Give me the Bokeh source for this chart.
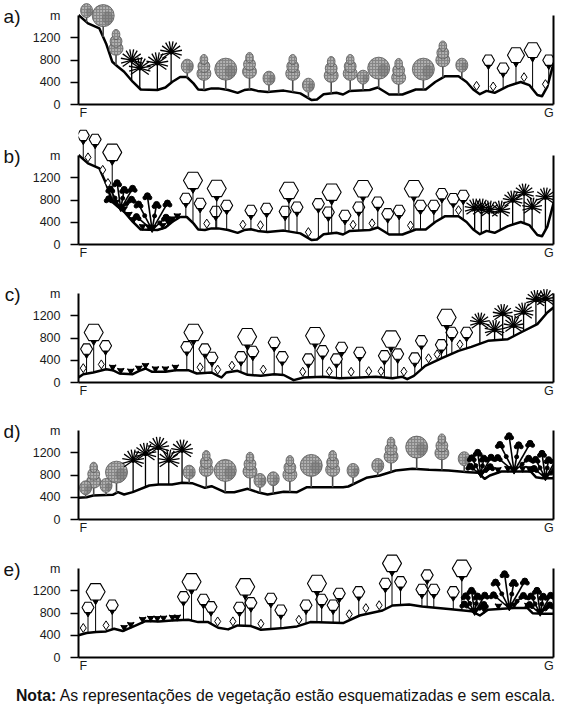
import numpy as np
from bokeh.plotting import figure
from bokeh.models import Range1d, LinearAxis, FixedTicker, Div
from bokeh.layouts import column
from bokeh.embed import file_html
from bokeh.resources import INLINE

# ---------------- DATA ----------------
# Terrain profiles: distance along the F-G transect (% of length) and elevation (m)
dist_ab = [0, 2.0, 4.4, 5.8, 7.1, 8.3, 9.6, 11.4, 13.1, 16.6, 18.3, 19.7, 21.4, 22.8, 24.2, 25.2,
           26.6, 28.0, 29.4, 31.5, 33.5, 34.9, 36.3, 37.7, 39.8, 43.2, 46.7, 49.1, 50.2, 51.6,
           54.3, 55.7, 57.1, 61.3, 63.0, 65.4, 68.2, 71.0, 73.1, 75.1, 77.2, 80.0, 81.7, 83.1,
           84.5, 85.9, 87.6, 90.4, 93.1, 94.9, 96.6, 97.6, 98.7, 100]
elev_ab = [1610, 1460, 1370, 1100, 770, 680, 590, 410, 270, 260, 305, 405, 495, 495, 380, 270,
           260, 290, 290, 260, 210, 260, 275, 245, 225, 250, 200, 80, 90, 185,
           210, 180, 245, 260, 305, 180, 180, 270, 270, 405, 510, 510, 405, 270,
           185, 245, 210, 330, 405, 350, 170, 150, 320, 740]

dist_c = [0, 1.0, 3.1, 5.8, 7.2, 8.6, 11.4, 12.8, 14.1, 15.5, 18.3, 20.4, 23.1, 24.9, 28.0, 29.4,
          30.1, 31.1, 33.5, 35.6, 38.4, 41.2, 43.2, 45.3, 47.4, 51.6, 55.0, 59.2, 62.6, 66.1,
          68.2, 69.2, 70.6, 73.0, 76.5, 80.0, 82.7, 86.2, 90.4, 93.1, 96.6, 98.7, 100]
elev_c = [90, 150, 180, 240, 222, 162, 150, 210, 252, 192, 192, 222, 222, 162, 180, 120,
          90, 180, 210, 138, 120, 150, 135, 42, 90, 102, 78, 90, 102, 78,
          102, 60, 120, 300, 438, 570, 642, 750, 780, 900, 1050, 1260, 1350]

dist_d = [0, 1.7, 3.1, 7.2, 8.3, 9.6, 11.4, 14.9, 16.9, 19.7, 21.8, 23.9, 26.6, 28.0, 30.8, 32.8,
          35.6, 37.7, 39.8, 43.2, 46.0, 48.1, 55.7, 56.8, 60.6, 63.4, 66.8, 70.3, 73.8, 77.9,
          82.1, 84.2, 85.5, 86.6, 89.0, 95.2, 96.3, 97.7, 100]
elev_d = [390, 402, 432, 444, 492, 450, 492, 612, 630, 630, 660, 654, 570, 600, 492, 492,
          552, 492, 450, 498, 492, 582, 582, 594, 750, 792, 882, 912, 894, 882,
          852, 840, 732, 792, 864, 864, 762, 744, 744]

dist_e = [0, 1.7, 3.7, 5.8, 7.5, 9.3, 12.1, 14.1, 16.9, 19.7, 23.1, 25.2, 27.3, 29.4, 31.5, 33.5,
          36.3, 38.4, 41.2, 43.2, 46.0, 48.8, 55.7, 59.2, 64.0, 66.1, 69.6, 72.3, 77.9, 82.7,
          84.5, 86.2, 91.7, 94.5, 95.6, 98.0, 100]
elev_e = [400, 440, 458, 470, 518, 476, 578, 655, 650, 668, 680, 637, 637, 536, 506, 578,
          566, 500, 518, 530, 560, 637, 619, 756, 846, 936, 954, 918, 875, 834,
          756, 858, 893, 893, 797, 786, 786]

y_ticks = [0, 400, 800, 1200]
unit_label = "m"
end_labels = ["F", "G"]
panel_letters = ["a)", "b)", "c)", "d)", "e)"]
note_bold = "Nota:"
note_text = "As representações de vegetação estão esquematizadas e sem escala."

# Vegetation (distance %, crown elevation m)
a_conifer_x = [7.9, 26.4, 36.0, 45.1, 53.2, 57.2, 67.4, 76.7]
a_conifer_z = [1114, 663, 699, 663, 627, 663, 591, 906]
a_broad_x = [5.2, 31.0, 63.2, 72.6]
a_broad_z = [1600, 636, 654, 636]
a_bush_x = [1.7, 22.9, 40.1, 48.4, 59.9, 80.7]
a_bush_z = [1690, 690, 474, 348, 492, 708]
a_palm_x = [11.2, 12.9, 16.6, 19.5]
a_palm_z = [798, 654, 744, 942]
a_big_x = [92.1, 95.6]
a_big_z = [888, 978]
a_small_x = [86.3, 89.4, 99.0]
a_small_z = [798, 654, 798]
a_shrub_x = [83.8, 87.3, 93.8, 98.3]

b_big_x = [7.1, 24.1, 29.1, 44.3, 53.3, 59.9, 70.6]
b_big_z = [1658, 1153, 1009, 973, 942, 1004, 1004]
b_small_x = [1.0, 3.5, 22.6, 25.6, 28.9, 31.2, 36.3, 39.6, 43.5, 46.0, 50.5, 52.6, 56.1, 59.0,
             63.0, 65.1, 67.5, 72.0, 74.8, 76.5, 78.9, 81.0]
b_small_z = [1964, 1892, 829, 739, 595, 703, 613, 649, 595, 672, 733, 582, 523, 672,
             762, 553, 613, 703, 703, 914, 824, 883]
b_shrub_x = [2.0, 5.1, 6.2, 27.0, 34.6, 38.3, 48.4, 57.8, 61.8, 69.9, 80.0]
b_palm_x = [83.4, 84.8, 86.5, 88.8, 91.4, 93.8, 95.5, 98.3]
b_palm_z = [649, 649, 613, 613, 793, 919, 667, 847]
b_caat_x = [8.9, 15.5]
b_caat_z = [1117, 883]
b_grass_x = [7.9, 9.6, 10.6, 11.6, 13.5, 14.8, 17.7, 18.9, 19.8, 20.8]

c_big_x = [3.2, 24.2, 35.5, 49.8, 65.8, 77.5]
c_big_z = [901, 901, 824, 842, 782, 1171]
c_small_x = [1.7, 5.7, 22.8, 26.6, 28.1, 34.2, 36.7, 41.2, 42.9, 48.4, 51.4, 54.3, 55.4, 59.2,
             64.4, 67.2, 70.8, 72.2, 76.4, 78.6, 81.7]
c_small_z = [602, 661, 643, 602, 451, 463, 559, 721, 463, 422, 571, 422, 631, 541,
             481, 512, 440, 751, 679, 901, 901]
c_shrub_x = [1.0, 4.8, 25.6, 29.3, 32.3, 38.9, 47.2, 52.8, 57.4, 61.1, 63.7, 68.5, 73.7, 75.5, 80.3]
c_grass_x = [7.2, 8.9, 11.0, 12.7, 14.1, 16.2, 18.3, 20.4]
c_palm_x = [84.5, 87.6, 89.3, 91.6, 93.7, 96.3, 98.3]
c_palm_z = [1081, 944, 1233, 1022, 1261, 1485, 1503]

d_conifer_x = [3.2, 26.9, 36.1, 44.5, 53.5, 65.8, 76.5]
d_conifer_z = [793, 1004, 973, 913, 1004, 1243, 1303]
d_broad_x = [8.0, 30.9, 49.0, 71.2]
d_broad_z = [852, 883, 973, 1303]
d_bush_x = [1.5, 5.8, 23.3, 38.2, 41.0, 57.8, 63.0, 81.2]
d_bush_z = [571, 613, 852, 703, 733, 883, 973, 1094]
d_palm_x = [11.5, 14.1, 16.8, 19.0, 21.8]
d_palm_z = [1063, 1184, 1292, 1063, 1243]
d_caat_x = [84.7, 91.7, 98.3]
d_caat_z = [1213, 1514, 1195]
d_grass_x = [88.3, 90.4, 93.5, 94.9]

e_big_x = [3.6, 23.8, 35.1, 50.2, 66.0, 80.7]
e_big_z = [1182, 1362, 1272, 1333, 1694, 1604]
e_small_x = [2.0, 7.1, 22.1, 26.3, 27.9, 33.9, 36.3, 40.5, 42.6, 47.9, 51.2, 53.6, 54.9, 59.0,
             64.6, 67.8, 72.3, 73.4, 74.8, 78.9]
e_small_z = [901, 942, 1092, 1045, 912, 901, 984, 1063, 852, 942, 1045, 942, 1153, 1182,
             1333, 1362, 1225, 1483, 1225, 1182]
e_shrub_x = [1.0, 5.8, 29.3, 32.5, 38.4, 46.4, 57.0, 60.5, 63.3]
e_grass_x = [9.6, 11.0, 13.5, 15.2, 16.6, 17.9, 19.8, 20.8, 85.4, 88.4, 91.7, 94.6]
e_caat_x = [83.4, 90.7, 97.2]
e_caat_z = [1213, 1514, 1213]

# ---------------- STYLE / HELPERS ----------------
M = 18.0          # metres per screen pixel (vertical)
W = 561
LEFT = 72
RIGHT = 8
PXU = (W - LEFT - RIGHT) / 100.0   # screen pixels per distance unit
FONT = "Liberation Sans"
GRAY = "#858585"
GRAY_LINE = "#5a5a5a"
UNIT_Y = 1590     # height where the unit / panel letter are written
AXIS_TOP = 1610


def base_fig(letter, frame_h, height):
    p = figure(width=W, height=height, x_range=Range1d(0, 100), y_range=Range1d(0, frame_h * M),
               output_backend="svg", toolbar_location=None,
               min_border_left=LEFT, min_border_right=RIGHT, min_border_top=0,
               min_border_bottom=height - frame_h)
    p.outline_line_color = None
    p.xgrid.visible = False
    p.ygrid.visible = False
    ya = p.yaxis[0]
    ya.ticker = FixedTicker(ticks=y_ticks + [UNIT_Y], minor_ticks=y_ticks)
    ya.major_label_overrides = {UNIT_Y: unit_label}
    ya.bounds = (0, AXIS_TOP)
    ya.axis_line_width = 2
    ya.axis_line_color = "black"
    ya.major_tick_line_color = None
    ya.major_tick_out = 0
    ya.major_tick_in = 0
    ya.minor_tick_out = 8
    ya.minor_tick_in = 0
    ya.minor_tick_line_width = 1.6
    ya.minor_tick_line_color = "black"
    ya.major_label_standoff = 10
    ya.major_label_text_font = FONT
    ya.major_label_text_font_size = "12.5px"
    ya.major_label_text_color = "#1a1a1a"
    # panel letter as an outer left axis label
    la = LinearAxis(ticker=FixedTicker(ticks=[UNIT_Y]), major_label_overrides={UNIT_Y: letter},
                    axis_line_color=None, major_tick_line_color=None, minor_tick_line_color=None,
                    major_tick_out=0, major_tick_in=0, major_label_standoff=9,
                    major_label_text_font=FONT, major_label_text_font_size="19px",
                    major_label_text_color="#111111")
    p.add_layout(la, "left")
    xa = p.xaxis[0]
    xa.ticker = FixedTicker(ticks=[1, 99])
    xa.major_label_overrides = {1: end_labels[0], 99: end_labels[1]}
    xa.major_tick_line_color = None
    xa.minor_tick_line_color = None
    xa.major_tick_out = 0
    xa.major_tick_in = 0
    xa.axis_line_width = 2
    xa.axis_line_color = "black"
    xa.major_label_standoff = 1
    xa.major_label_text_font = FONT
    xa.major_label_text_font_size = "12.5px"
    xa.major_label_text_color = "#1a1a1a"
    ra = LinearAxis(ticker=FixedTicker(ticks=[]), bounds=(0, AXIS_TOP),
                    major_label_text_font_size="0px", major_tick_out=0, major_tick_in=0,
                    minor_tick_out=0, minor_tick_in=0, major_label_standoff=0,
                    axis_line_width=2, axis_line_color="black")
    p.add_layout(ra, "right")
    return p


def terrain(p, d, e):
    p.line(d, e, line_width=2.5, line_color="black", line_join="round")


def ground_fn(d, e):
    return lambda x: np.interp(np.asarray(x, float), d, e)


def white_trees(p, g, xs, zs, size):
    xs = np.asarray(xs, float)
    zs = np.asarray(zs, float)
    p.segment(xs, g(xs), xs, zs, line_color="black", line_width=1)
    p.scatter(xs, zs - (size / 2.0 + 0.5) * M, marker="inverted_triangle", size=5,
              fill_color="black", line_color="black")
    p.scatter(xs, zs, marker="hex", size=size, fill_color="white", line_color="black",
              line_width=1.1)


def shrubs(p, g, xs):
    xs = np.asarray(xs, float)
    p.scatter(xs, g(xs) + 6 * M, marker="diamond", size=9, fill_color="white",
              line_color="black", line_width=1)


def grass(p, g, xs):
    xs = np.asarray(xs, float)
    p.scatter(xs, g(xs) + 3 * M, marker="inverted_triangle", size=6, fill_color="black",
              line_color="black")
    p.scatter(xs, g(xs) + 3 * M, marker="y", size=8, line_color="black", line_width=1.2)


def gray_trees(p, g, xs, zs, w, h, kind):
    xs = np.asarray(xs, float)
    zs = np.asarray(zs, float)
    p.segment(xs, g(xs), xs, zs, line_color="#4a4a4a", line_width=1.6)
    kw = dict(width_units="screen", height_units="screen", fill_color=GRAY,
              line_color=GRAY_LINE, line_width=0.8, hatch_pattern="ring",
              hatch_color="#d0d0d0", hatch_scale=3, hatch_weight=0.7, hatch_alpha=0.8)
    if kind == "conifer":
        p.ellipse(xs, zs - 0.22 * h * M, width=w, height=0.5 * h, **kw)
        p.ellipse(xs, zs + 0.05 * h * M, width=0.85 * w, height=0.45 * h, **kw)
        p.ellipse(xs, zs + 0.3 * h * M, width=0.55 * w, height=0.38 * h, **kw)
    else:
        p.ellipse(xs, zs, width=w, height=h, **kw)
        p.ellipse(xs + 0.2 * w / PXU, zs - 0.1 * h * M, width=0.5 * w, height=0.6 * h,
                  width_units="screen", height_units="screen", fill_color="#6e6e6e",
                  fill_alpha=0.55, line_color=None)


def palms(p, g, xs, zs, L):
    xs = np.asarray(xs, float)
    zs = np.asarray(zs, float)
    p.segment(xs, g(xs), xs, zs, line_color="black", line_width=1.3)
    ang = np.array([-35, -15, 10, 35, 60, 80, 100, 120, 145, 170, 195, 215], float)
    n = len(ang)
    p.ray(np.repeat(xs, n), np.repeat(zs, n), length=L, length_units="screen",
          angle=np.tile(ang, len(xs)), angle_units="deg", line_color="black", line_width=1.3)
    p.scatter(xs, zs, marker="circle", size=4, color="black")


def caatinga(p, g, xs, ztops):
    xs = np.asarray(xs, float)
    ztops = np.asarray(ztops, float)
    ang = np.radians([-50, -28, -8, 10, 30, 48])
    frac = np.array([0.6, 0.85, 1.0, 0.75, 0.9, 0.55])
    x0s, y0s, x1s, y1s = [], [], [], []
    for x, zt in zip(xs, ztops):
        base = float(g(x))
        hpx = (zt - base) / M
        for a, f in zip(ang, frac):
            x0s.append(x)
            y0s.append(base)
            x1s.append(x + hpx * f * np.sin(a) / PXU)
            y1s.append(base + hpx * f * np.cos(a) * M)
    p.segment(x0s, y0s, x1s, y1s, line_color="black", line_width=1.6)
    p.scatter(x1s, y1s, marker="circle", size=6, color="black")
    p.scatter([x - 2.5 / PXU for x in x1s], [y - 2 * M for y in y1s], marker="circle", size=4,
              color="black")
    p.scatter([x + 2.5 / PXU for x in x1s], [y - 2 * M for y in y1s], marker="circle", size=4,
              color="black")
    mx = [a * 0.45 + b * 0.55 for a, b in zip(x0s, x1s)]
    my = [a * 0.45 + b * 0.55 for a, b in zip(y0s, y1s)]
    p.scatter(mx[1::2], my[1::2], marker="circle", size=4, color="black")
    p.scatter(xs, g(xs) + 2 * M, marker="inverted_triangle", size=8, color="black")


# ---------------- PANELS ----------------
# a)
ga = ground_fn(dist_ab, elev_ab)
pa = base_fig(panel_letters[0], 104, 122)
terrain(pa, dist_ab, elev_ab)
gray_trees(pa, ga, a_conifer_x, a_conifer_z, 14, 27, "conifer")
gray_trees(pa, ga, a_broad_x, a_broad_z, 22, 22, "broad")
gray_trees(pa, ga, a_bush_x, a_bush_z, 12, 14, "broad")
palms(pa, ga, a_palm_x, a_palm_z, 11)
shrubs(pa, ga, a_shrub_x)
white_trees(pa, ga, a_small_x, a_small_z, 12)
white_trees(pa, ga, a_big_x, a_big_z, 17)

# b)
gb = ground_fn(dist_ab, elev_ab)
pb = base_fig(panel_letters[1], 122, 140)
terrain(pb, dist_ab, elev_ab)
grass(pb, gb, b_grass_x)
caatinga(pb, gb, b_caat_x, b_caat_z)
shrubs(pb, gb, b_shrub_x)
white_trees(pb, gb, b_small_x, b_small_z, 12)
white_trees(pb, gb, b_big_x, b_big_z, 19)
palms(pb, gb, b_palm_x, b_palm_z, 10)

# c)
gc = ground_fn(dist_c, elev_c)
pc = base_fig(panel_letters[2], 120, 138)
terrain(pc, dist_c, elev_c)
grass(pc, gc, c_grass_x)
shrubs(pc, gc, c_shrub_x)
white_trees(pc, gc, c_small_x, c_small_z, 12)
white_trees(pc, gc, c_big_x, c_big_z, 19)
palms(pc, gc, c_palm_x, c_palm_z, 10)

# d)
gd = ground_fn(dist_d, elev_d)
pd_ = base_fig(panel_letters[3], 119, 137)
terrain(pd_, dist_d, elev_d)
gray_trees(pd_, gd, d_conifer_x, d_conifer_z, 14, 27, "conifer")
gray_trees(pd_, gd, d_broad_x, d_broad_z, 22, 22, "broad")
gray_trees(pd_, gd, d_bush_x, d_bush_z, 12, 14, "broad")
palms(pd_, gd, d_palm_x, d_palm_z, 11)
grass(pd_, gd, d_grass_x)
caatinga(pd_, gd, d_caat_x, d_caat_z)

# e)
ge = ground_fn(dist_e, elev_e)
pe = base_fig(panel_letters[4], 120, 138)
terrain(pe, dist_e, elev_e)
grass(pe, ge, e_grass_x)
caatinga(pe, ge, e_caat_x, e_caat_z)
shrubs(pe, ge, e_shrub_x)
white_trees(pe, ge, e_small_x, e_small_z, 12)
white_trees(pe, ge, e_big_x, e_big_z, 19)

note = Div(text="<b>" + note_bold + "</b> " + note_text, width=W, height=28,
           styles={"font-family": FONT + ", Arial, sans-serif", "font-size": "15.8px",
                   "text-align": "center", "color": "#111111", "width": str(W) + "px",
                   "padding-top": "5px", "white-space": "nowrap"})

layout = column(pa, pb, pc, pd_, pe, note, spacing=0)
open("out.html", "w").write(file_html(layout, INLINE))
